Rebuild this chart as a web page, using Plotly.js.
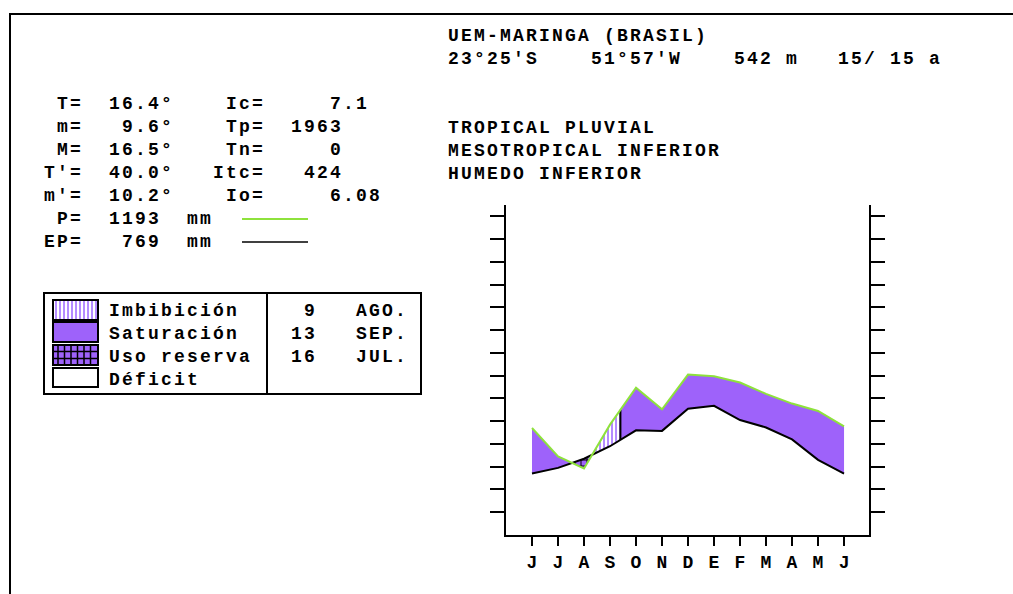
<!DOCTYPE html>
<html><head><meta charset="utf-8">
<script src="https://cdn.plot.ly/plotly-3.0.1.min.js"></script>
<style>
html,body{margin:0;padding:0;background:#fff;}
#chart{width:1013px;height:594px;}
text.annotation-text{letter-spacing:2.2px;}
</style></head><body><div id="chart"></div>
<script>
// ---------- data ----------
const months = ['J','J','A','S','O','N','D','E','F','M','A','M','J'];
const precip = [94, 69, 58.5, 97, 129.5, 110.5, 141, 139.5, 134, 124, 115.5, 109, 95.5];
const evapo  = [54, 59, 67, 78, 92, 91.5, 111, 113.5, 101, 94.5, 84, 66, 54];
const stationLines = ['UEM-MARINGA (BRASIL)', "23°25'S    51°57'W    542 m   15/ 15 a"];
const bioclimate = ['TROPICAL PLUVIAL', 'MESOTROPICAL INFERIOR', 'HUMEDO INFERIOR'];
const statsRows = [' T=  16.4°    Ic=     7.1', ' m=   9.6°    Tp=  1963', ' M=  16.5°    Tn=     0',
                   "T'=  40.0°   Itc=   424", "m'=  10.2°    Io=     6.08", ' P=  1193  mm', 'EP=   769  mm'];
const phaseNames = ['Imbibición', 'Saturación', 'Uso reserva', 'Déficit'];
const phaseDays = ['9', '13', '16'];
const phaseMonths = ['AGO.', 'SEP.', 'JUL.'];
const monthInfo = {'JUN.':[0,30],'JUL.':[1,31],'AGO.':[2,31],'SEP.':[3,30],'OCT.':[4,31],'NOV.':[5,30]};

// ---------- helpers ----------
const W = 1013, H = 594;
const PX = v => v / W, PY = v => 1 - v / H;
const nb = s => s.replace(/ /g, '\u00a0');
const dateX = (d, m) => monthInfo[m][0] + (parseInt(d) - 1) / monthInfo[m][1];
const xImb = dateX(phaseDays[0], phaseMonths[0]);
const xSat = dateX(phaseDays[1], phaseMonths[1]);
const xUso = dateX(phaseDays[2], phaseMonths[2]);
function interp(arr, x) { let i = Math.min(Math.floor(x), arr.length - 2); const f = x - i; return arr[i] + (arr[i+1] - arr[i]) * f; }
function seg(arr, a, b) {
  const xs = [a], ys = [interp(arr, a)];
  for (let i = Math.ceil(a); i <= Math.floor(b); i++) { if (i > a && i < b) { xs.push(i); ys.push(arr[i]); } }
  xs.push(b); ys.push(interp(arr, b));
  return {x: xs, y: ys};
}
function band(a, b) {
  const p = seg(precip, a, b), e = seg(evapo, a, b);
  return {x: p.x.concat(e.x.slice().reverse()), y: p.y.concat(e.y.slice().reverse())};
}
const PURPLE = '#9e62fa', LIGHTP = '#b48cff', GREEN = '#8ee23c';
const xs = months.map((_, i) => i);

function region(a, b, extra) {
  const r = band(a, b);
  return Object.assign({type:'scatter', mode:'lines', x:r.x, y:r.y, fill:'toself', line:{width:0}, hoverinfo:'skip', showlegend:false}, extra);
}
const traces = [
  region(0, xUso, {fillcolor: PURPLE}),
  region(xUso, xImb, {fillcolor: PURPLE, fillpattern:{shape:'+', bgcolor: PURPLE, fgcolor:'#000000', size:6, solidity:0.3}}),
  region(xImb, xSat, {fillcolor: '#ffffff', fillpattern:{shape:'|', bgcolor:'#ffffff', fgcolor: LIGHTP, size:4, solidity:0.5}}),
  region(xSat, months.length - 1, {fillcolor: PURPLE}),
  {type:'scatter', mode:'lines', x:[xSat, xSat], y:[interp(evapo, xSat), interp(precip, xSat)], line:{color:'#000', width:2}, hoverinfo:'skip', showlegend:false},
  {type:'scatter', mode:'lines', x:xs, y:evapo, line:{color:'#000', width:2}, hoverinfo:'skip', showlegend:false},
  {type:'scatter', mode:'lines', x:xs, y:precip, line:{color:GREEN, width:2}, hoverinfo:'skip', showlegend:false}
];

// ---------- annotations ----------
const FONT = {family:'Liberation Mono', size:18, weight:'bold', color:'#000'};
const ann = [];
function txt(px, py, s) { ann.push({xref:'paper', yref:'paper', x:PX(px), y:PY(py), xanchor:'left', yanchor:'middle', align:'left', showarrow:false, text:nb(s), font:FONT}); }
stationLines.forEach((s, i) => txt(446, 36 + i * 23, s));
bioclimate.forEach((s, i) => txt(446, 128 + i * 23, s));
statsRows.forEach((s, i) => txt(42, 104 + i * 23, s));
const COL = c => 42 + c * 13;
phaseNames.forEach((s, i) => txt(COL(5), 311 + i * 23, s));
phaseDays.forEach((s, i) => txt(COL(21 - s.length), 311 + i * 23, s));
phaseMonths.forEach((s, i) => txt(COL(24), 311 + i * 23, s));

// ---------- shapes ----------
const shapes = [];
function line(x0, y0, x1, y1, color, width) { shapes.push({type:'line', xref:'paper', yref:'paper', x0:PX(x0), y0:PY(y0), x1:PX(x1), y1:PY(y1), line:{color:color, width:width}}); }
function rect(x0, y0, x1, y1, fill, lc, lw) { shapes.push({type:'rect', xref:'paper', yref:'paper', x0:PX(x0), y0:PY(y0), x1:PX(x1), y1:PY(y1), fillcolor:fill, line:{color:lc, width:lw}}); }
// outer frame
line(9, 14, 1013, 14, '#000', 2);
line(10, 14, 10, 594, '#000', 2);
// P / EP legend lines
line(242, 219, 308, 219, GREEN, 2);
line(242, 242, 308, 242, '#000', 1.5);
// legend box
rect(44, 293, 421, 394, 'rgba(0,0,0,0)', '#000', 2);
line(267, 293, 267, 394, '#000', 2);
const sw = [[300, 320], [322, 342], [345, 365], [368, 387]];
// Imbibicion swatch
rect(53, sw[0][0], 98, sw[0][1], '#ffffff', '#000', 0);
for (let x = 56; x < 97; x += 4) line(x, sw[0][0], x, sw[0][1], LIGHTP, 2);
rect(53, sw[0][0], 98, sw[0][1], 'rgba(0,0,0,0)', '#000', 2);
// Saturacion swatch
rect(53, sw[1][0], 98, sw[1][1], PURPLE, '#000', 2);
// Uso reserva swatch
rect(53, sw[2][0], 98, sw[2][1], PURPLE, '#000', 0);
for (let x = 58; x < 97; x += 6.5) line(x, sw[2][0], x, sw[2][1], '#000', 1.5);
line(53, 351.5, 98, 351.5, '#000', 1.5);
line(53, 358.5, 98, 358.5, '#000', 1.5);
rect(53, sw[2][0], 98, sw[2][1], 'rgba(0,0,0,0)', '#000', 2);
// Deficit swatch
rect(53, sw[3][0], 98, sw[3][1], '#ffffff', '#000', 2);

const yTicks = [];
for (let v = 20; v <= 280; v += 20) yTicks.push(v);

const layout = {
  width: W, height: H,
  margin: {l:0, r:0, t:0, b:0},
  paper_bgcolor:'#ffffff', plot_bgcolor:'#ffffff',
  showlegend:false,
  xaxis: {domain:[506/W, 869/W], range:[-1, 12.96], showgrid:false, zeroline:false,
          showline:true, linecolor:'#000', linewidth:2, mirror:false,
          ticks:'outside', ticklen:9, tickwidth:2, tickcolor:'#000',
          tickmode:'array', tickvals:xs, ticktext:months, ticklabelstandoff:0,
          tickfont:{family:'Liberation Mono', size:18, weight:'bold', color:'#000'}, fixedrange:true},
  yaxis: {domain:[1 - 535/H, 1 - 205/H], range:[0, 290], showgrid:false, zeroline:false,
          showline:true, linecolor:'#000', linewidth:2, mirror:'ticks',
          ticks:'outside', ticklen:14, tickwidth:2, tickcolor:'#000',
          tickmode:'array', tickvals:yTicks, showticklabels:false, fixedrange:true},
  annotations: ann,
  shapes: shapes
};
Plotly.newPlot('chart', traces, layout, {staticPlot:true, displayModeBar:false});
</script></body></html>
